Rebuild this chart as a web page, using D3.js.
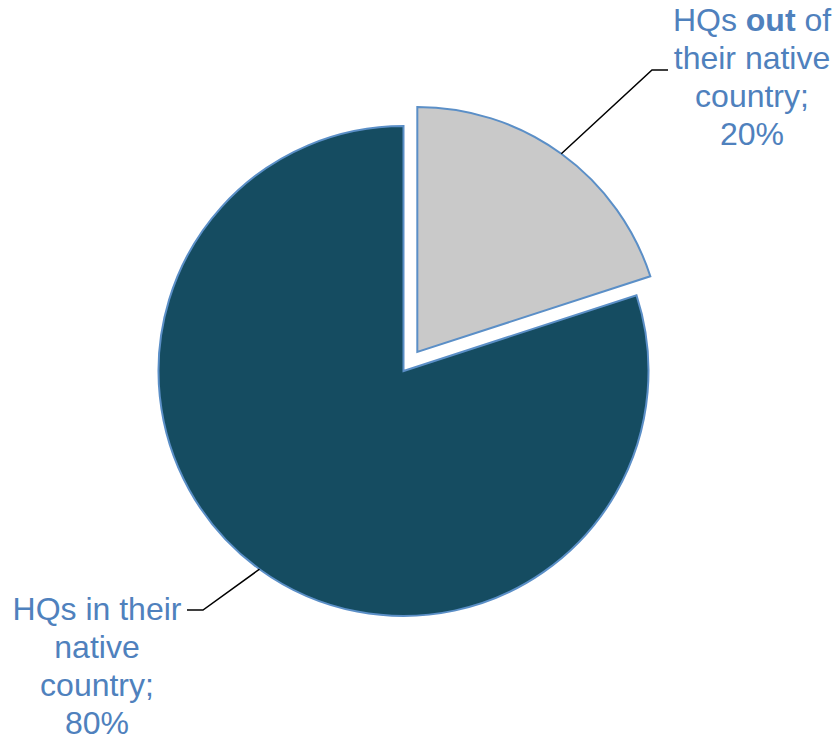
<!DOCTYPE html>
<html><head><meta charset="utf-8">
<script src="https://cdn.jsdelivr.net/npm/d3@7"></script>
<style>body{margin:0;background:#fff}</style>
</head><body>
<svg id="c" width="837" height="741"></svg>
<script>
const categories = ["HQs out of their native country", "HQs in their native country"];
const values = [20, 80];
const colors = ["#c9c9c9", "#154c61"];
const labelLines = [
  [[["HQs ", false], ["out", true], [" of", false]], [["their native", false]], [["country;", false]], [["20%", false]]],
  [[["HQs in their", false]], [["native", false]], [["country;", false]], [["80%", false]]]
];

const svg = d3.select("#c");
const cx = 403.5, cy = 371, R = 245, explode = 23.5;
const pie = d3.pie().sort(null).value(d => d)(values);
const arc = d3.arc().innerRadius(0).outerRadius(R);

const g = svg.append("g").attr("transform", `translate(${cx},${cy})`);
pie.forEach((p, i) => {
  const mid = (p.startAngle + p.endAngle) / 2;
  const off = i === 0 ? explode : 0;
  const dx = Math.sin(mid) * off, dy = -Math.cos(mid) * off;
  g.append("path").attr("d", arc(p))
    .attr("transform", `translate(${dx},${dy})`)
    .attr("fill", colors[i]).attr("stroke", "#5b8fc7").attr("stroke-width", 2)
    .attr("stroke-linejoin", "miter");
  p.dx = dx; p.dy = dy; p.mid = mid;
});

// leader lines
const leaders = [
  {corner: [652, 70], end: [668, 70]},
  {corner: [203, 610], end: [187, 610]}
];
pie.forEach((p, i) => {
  const sx = cx + p.dx + Math.sin(p.mid) * R;
  const sy = cy + p.dy - Math.cos(p.mid) * R;
  const L = leaders[i];
  svg.append("path").attr("d", `M${sx},${sy}L${L.corner[0]},${L.corner[1]}L${L.end[0]},${L.end[1]}`)
    .attr("fill", "none").attr("stroke", "#000").attr("stroke-width", 1.5);
});

// labels
const labelPos = [{x: 752, y: 31}, {x: 97, y: 620}];
labelLines.forEach((lines, i) => {
  const t = svg.append("text").attr("text-anchor", "middle")
    .attr("font-family", "Liberation Sans, Arial, sans-serif")
    .attr("font-size", 32).attr("fill", "#4f81bd");
  lines.forEach((segs, j) => {
    segs.forEach((s, k) => {
      const ts = t.append("tspan").text(s[0]).attr("font-weight", s[1] ? "bold" : "normal");
      if (k === 0) ts.attr("x", labelPos[i].x).attr("y", labelPos[i].y + j * 38);
    });
  });
});
</script>
</body></html>
